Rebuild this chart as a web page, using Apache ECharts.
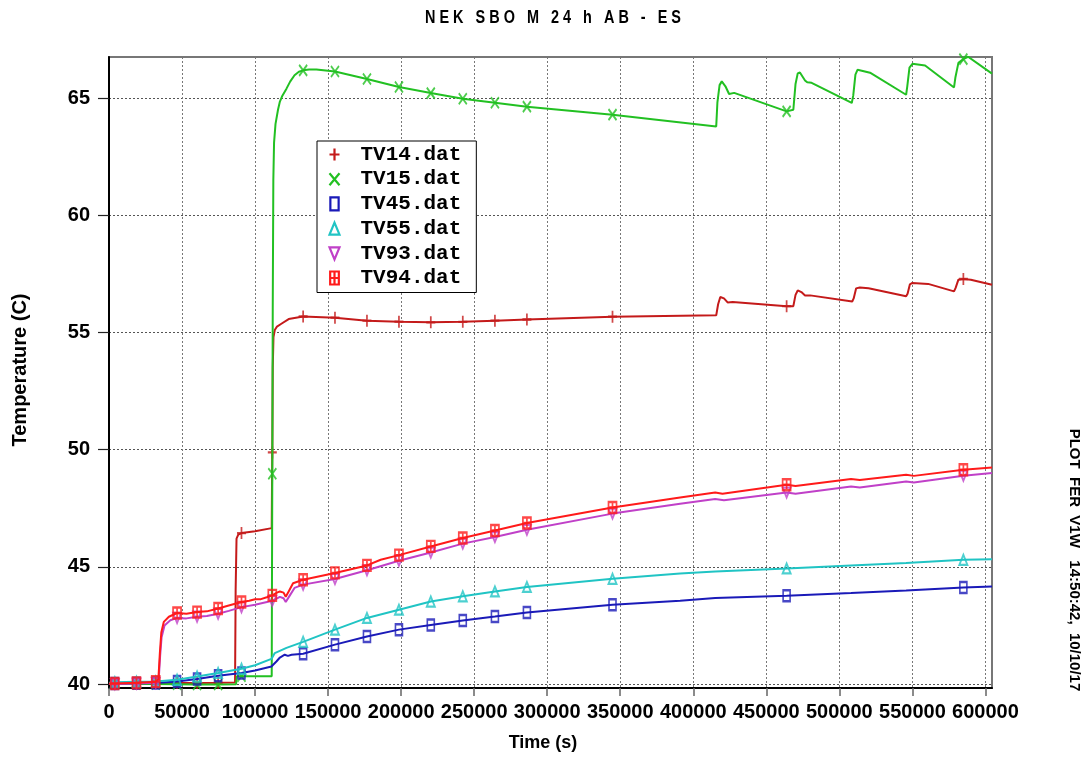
<!DOCTYPE html>
<html>
<head>
<meta charset="utf-8">
<script src="https://cdn.jsdelivr.net/npm/echarts@6/dist/echarts.min.js"></script>
<style>html,body{margin:0;padding:0;background:#fff;}#c{width:1090px;height:760px;}</style>
</head>
<body>
<div id="c"></div>
<script>
const TITLE = 'N E K   S B O   M   2 4   h   A B   -   E S';
const SIDE_TEXT = 'PLOT  FER  V1W   14:50:42,  10/10/17';
const X_NAME = 'Time (s)';
const Y_NAME = 'Temperature (C)';
const X_TICKS = [0, 50000, 100000, 150000, 200000, 250000, 300000, 350000, 400000, 450000, 500000, 550000, 600000];
const Y_TICKS = [40, 45, 50, 55, 60, 65];
const NAMES = ['TV14.dat', 'TV15.dat', 'TV45.dat', 'TV55.dat', 'TV93.dat', 'TV94.dat'];
const MARKER_X = [4000, 18800, 32000, 46600, 60300, 74700, 90700, 111800, 132900, 154700, 176600, 198500, 220300, 242200, 264200, 286100, 344700, 463900, 584900];

const TV14 = [[0,40.0],[4000,40.0],[18800,40.02],[32000,40.03],[46600,40.04],[60300,40.04],[74700,40.05],[86300,40.06],[86700,44.0],[87300,46.2],[88500,46.37],[90700,46.44],[100000,46.52],[111400,46.65],[111600,48.5],[111800,49.88],[112100,53.5],[112600,54.8],[113500,55.1],[115000,55.25],[118000,55.37],[123000,55.57],[132900,55.68],[154700,55.63],[176600,55.5],[198500,55.46],[220300,55.43],[242200,55.45],[264200,55.5],[286100,55.55],[344700,55.67],[415700,55.73],[417000,56.2],[418500,56.51],[421000,56.45],[423500,56.28],[427000,56.3],[463900,56.12],[468500,56.12],[470000,56.6],[471500,56.79],[474000,56.72],[476500,56.58],[480000,56.58],[508800,56.32],[509800,56.45],[511500,56.88],[514000,56.92],[520000,56.88],[545700,56.54],[546700,56.65],[548300,57.05],[550000,57.11],[560800,57.07],[578500,56.75],[579600,56.9],[581500,57.25],[584900,57.28],[590000,57.25],[604500,57.03]];
const TV15 = [[0,40.02],[4000,40.02],[18800,40.0],[32000,40.0],[46600,39.99],[60300,39.98],[74700,39.98],[87000,39.99],[87500,40.33],[90700,40.33],[111400,40.33],[111600,45.0],[111800,48.97],[112100,56.0],[112500,61.5],[113000,63.1],[114000,63.9],[115700,64.5],[117000,64.85],[118700,65.1],[121500,65.4],[124000,65.7],[127000,65.97],[130000,66.12],[132900,66.18],[137000,66.22],[142000,66.22],[154700,66.13],[176600,65.81],[198500,65.47],[220300,65.21],[242200,64.97],[264200,64.8],[286100,64.63],[344700,64.29],[415700,63.79],[416500,64.8],[418000,65.55],[419500,65.71],[422000,65.5],[424500,65.17],[428000,65.22],[463900,64.43],[468500,64.5],[470000,65.6],[471500,66.05],[473000,66.09],[476500,65.75],[478000,65.67],[481000,65.65],[508500,64.79],[509500,65.1],[511000,66.0],[512500,66.21],[521000,66.08],[545700,65.14],[546500,65.5],[548000,66.3],[550000,66.46],[558700,66.39],[578500,65.45],[579500,65.9],[581500,66.5],[584900,66.66],[588100,66.76],[604500,66.04]];
const TV45 = [[0,40.02],[4000,40.02],[18800,40.03],[32000,40.04],[46600,40.11],[60300,40.21],[74700,40.35],[90700,40.47],[100000,40.58],[111200,40.75],[114600,40.96],[117000,41.13],[120300,41.25],[122500,41.2],[125000,41.25],[132900,41.29],[154700,41.68],[176600,42.03],[198500,42.32],[220300,42.52],[242200,42.71],[264200,42.88],[286100,43.05],[344700,43.38],[391000,43.55],[415000,43.67],[463900,43.77],[508000,43.88],[545700,43.99],[584900,44.12],[604500,44.16]];
const TV55 = [[0,40.05],[4000,40.08],[18800,40.1],[32000,40.11],[46600,40.18],[60300,40.32],[74700,40.47],[90700,40.65],[100000,40.8],[111200,41.07],[113500,41.32],[121500,41.54],[132900,41.8],[154700,42.32],[176600,42.82],[198500,43.17],[220300,43.52],[242200,43.74],[264200,43.95],[286100,44.14],[344700,44.49],[391000,44.71],[415000,44.8],[463900,44.93],[508000,45.06],[545700,45.16],[584900,45.3],[604500,45.32]];
const TV93 = [[0,40.0],[4000,40.0],[18800,40.02],[32000,40.05],[34000,40.15],[35000,41.2],[36000,42.0],[38000,42.5],[42000,42.72],[46600,42.82],[53000,42.8],[60300,42.87],[67000,42.9],[74700,43.0],[82000,43.12],[90700,43.28],[100000,43.38],[111800,43.55],[117000,43.72],[119500,43.66],[121000,43.5],[123500,43.75],[127000,44.1],[132900,44.24],[154700,44.48],[176600,44.85],[198500,45.26],[220300,45.61],[242200,45.99],[264200,46.27],[286100,46.58],[344700,47.27],[391000,47.69],[415000,47.89],[421000,47.84],[463900,48.17],[470000,48.12],[508000,48.43],[514000,48.38],[545700,48.64],[551000,48.6],[584900,48.89],[604500,49.0]];
const TV94 = [[0,40.02],[4000,40.02],[18800,40.05],[32000,40.1],[33800,40.2],[34800,41.3],[35800,42.2],[37500,42.65],[41000,42.87],[46600,43.03],[53000,43.0],[60300,43.07],[67000,43.1],[74700,43.22],[82000,43.35],[90700,43.5],[96000,43.55],[100000,43.62],[104000,43.62],[108000,43.7],[111800,43.78],[115000,43.9],[117000,43.95],[119500,43.9],[121000,43.72],[123000,43.95],[126000,44.3],[132900,44.45],[154700,44.74],[176600,45.06],[186000,45.3],[198500,45.5],[220300,45.87],[242200,46.23],[264200,46.55],[286100,46.87],[344700,47.53],[391000,47.96],[415000,48.17],[420000,48.12],[463900,48.5],[470000,48.45],[508000,48.75],[514000,48.7],[545700,48.93],[551000,48.88],[584900,49.14],[604500,49.24]];

const SERIES_DATA = [TV14, TV15, TV45, TV55, TV93, TV94];
const COLORS = ['#c41a1a', '#22c022', '#1a1ab8', '#20c4c4', '#c040c8', '#ff1a1a'];
const SYMBOLS = [
  'path://M5,0 L5,12 M0,6 L10,6',
  'path://M0,0 L10,12 M10,0 L0,12',
  'path://M0,0 L7,0 L7,11 L0,11 Z',
  'path://M5,0 L10,12 L0,12 Z',
  'path://M0,0 L10,0 L5,12 Z',
  'path://M0,0 L8,0 L8,12 L0,12 Z M4,0 L4,12 M0,6 L8,6'
];
const SYM_SIZES = [[9,12],[8,11],[7,11],[8,10],[8,10],[8,11]];

const FONT = 'Liberation Sans';
const chart = echarts.init(document.getElementById('c'), null, {renderer: 'canvas'});

const series = [];
NAMES.forEach((n, i) => {
  series.push({
    name: n, type: 'line', data: SERIES_DATA[i], showSymbol: false, symbol: 'none',
    lineStyle: {color: COLORS[i], width: 2}, itemStyle: {color: COLORS[i]},
    silent: true, z: 3 + i, emphasis: {disabled: true}
  });
  series.push({
    name: n, type: 'scatter',
    data: SERIES_DATA[i].filter(p => MARKER_X.indexOf(p[0]) >= 0),
    symbol: SYMBOLS[i], symbolSize: SYM_SIZES[i],
    itemStyle: {color: 'none', borderColor: COLORS[i], borderWidth: 2},
    silent: true, z: 3 + i, emphasis: {disabled: true}
  });
});

const option = {
  animation: false,
  backgroundColor: '#fff',
  grid: {left: 109, top: 57, right: 98, bottom: 72, show: true, borderColor: '#777', borderWidth: 2, backgroundColor: 'transparent'},
  xAxis: {
    type: 'value', min: 0, max: 604500, interval: 50000,
    axisLine: {onZero: false, lineStyle: {color: '#000', width: 2}},
    axisTick: {show: true, inside: false, length: 8, lineStyle: {color: '#666', width: 1.5}, customValues: X_TICKS},
    axisLabel: {customValues: X_TICKS, margin: 14, color: '#000', fontFamily: FONT, fontWeight: 'bold', fontSize: 20,
      formatter: v => (X_TICKS.indexOf(v) >= 0 ? String(v) : '')},
    splitLine: {show: true, lineStyle: {type: [2, 2], color: '#777', width: 1}}
  },
  yAxis: {
    type: 'value', min: 39.83, max: 66.75, interval: 5,
    axisLine: {show: true, onZero: false, lineStyle: {color: '#000', width: 2}},
    axisTick: {show: true, inside: false, length: 11, lineStyle: {color: '#222', width: 1.2}, customValues: Y_TICKS},
    axisLabel: {customValues: Y_TICKS, margin: 19, color: '#000', fontFamily: FONT, fontWeight: 'bold', fontSize: 20,
      formatter: v => (Y_TICKS.indexOf(v) >= 0 ? String(v) : '')},
    splitLine: {show: true, lineStyle: {type: [2, 2], color: '#555', width: 1}}
  },
  legend: {
    orient: 'vertical', left: 317, top: 141, selectedMode: false,
    backgroundColor: '#fff', borderColor: '#000', borderWidth: 1,
    padding: [3, 15, 4, 10], itemGap: 3.7, itemWidth: 10, itemHeight: 13,
    textStyle: {fontFamily: 'Liberation Mono', fontWeight: 'bold', fontSize: 21, lineHeight: 20, color: '#000', padding: [0, 0, 0, 16]},
    data: NAMES.map((n, i) => ({name: n, icon: SYMBOLS[i], itemStyle: {color: 'none', borderColor: COLORS[i], borderWidth: 2.2}}))
  },
  graphic: [
    {type: 'text', x: 553, y: 18, scaleX: 0.76, style: {text: TITLE, fontFamily: FONT, fontWeight: 'bold', fontSize: 19, fill: '#000', align: 'center', verticalAlign: 'middle'}},
    {type: 'text', x: 20, y: 370, rotation: Math.PI / 2, style: {text: Y_NAME, fontFamily: FONT, fontWeight: 'bold', fontSize: 20, fill: '#000', align: 'center', verticalAlign: 'middle'}},
    {type: 'text', x: 543, y: 743, style: {text: X_NAME, fontFamily: FONT, fontWeight: 'bold', fontSize: 18, fill: '#000', align: 'center', verticalAlign: 'middle'}},
    {type: 'text', x: 1074, y: 560, rotation: -Math.PI / 2, style: {text: SIDE_TEXT, fontFamily: FONT, fontWeight: 'bold', fontSize: 15, fill: '#000', align: 'center', verticalAlign: 'middle'}}
  ],
  series: series
};
chart.setOption(option);
</script>
</body>
</html>
